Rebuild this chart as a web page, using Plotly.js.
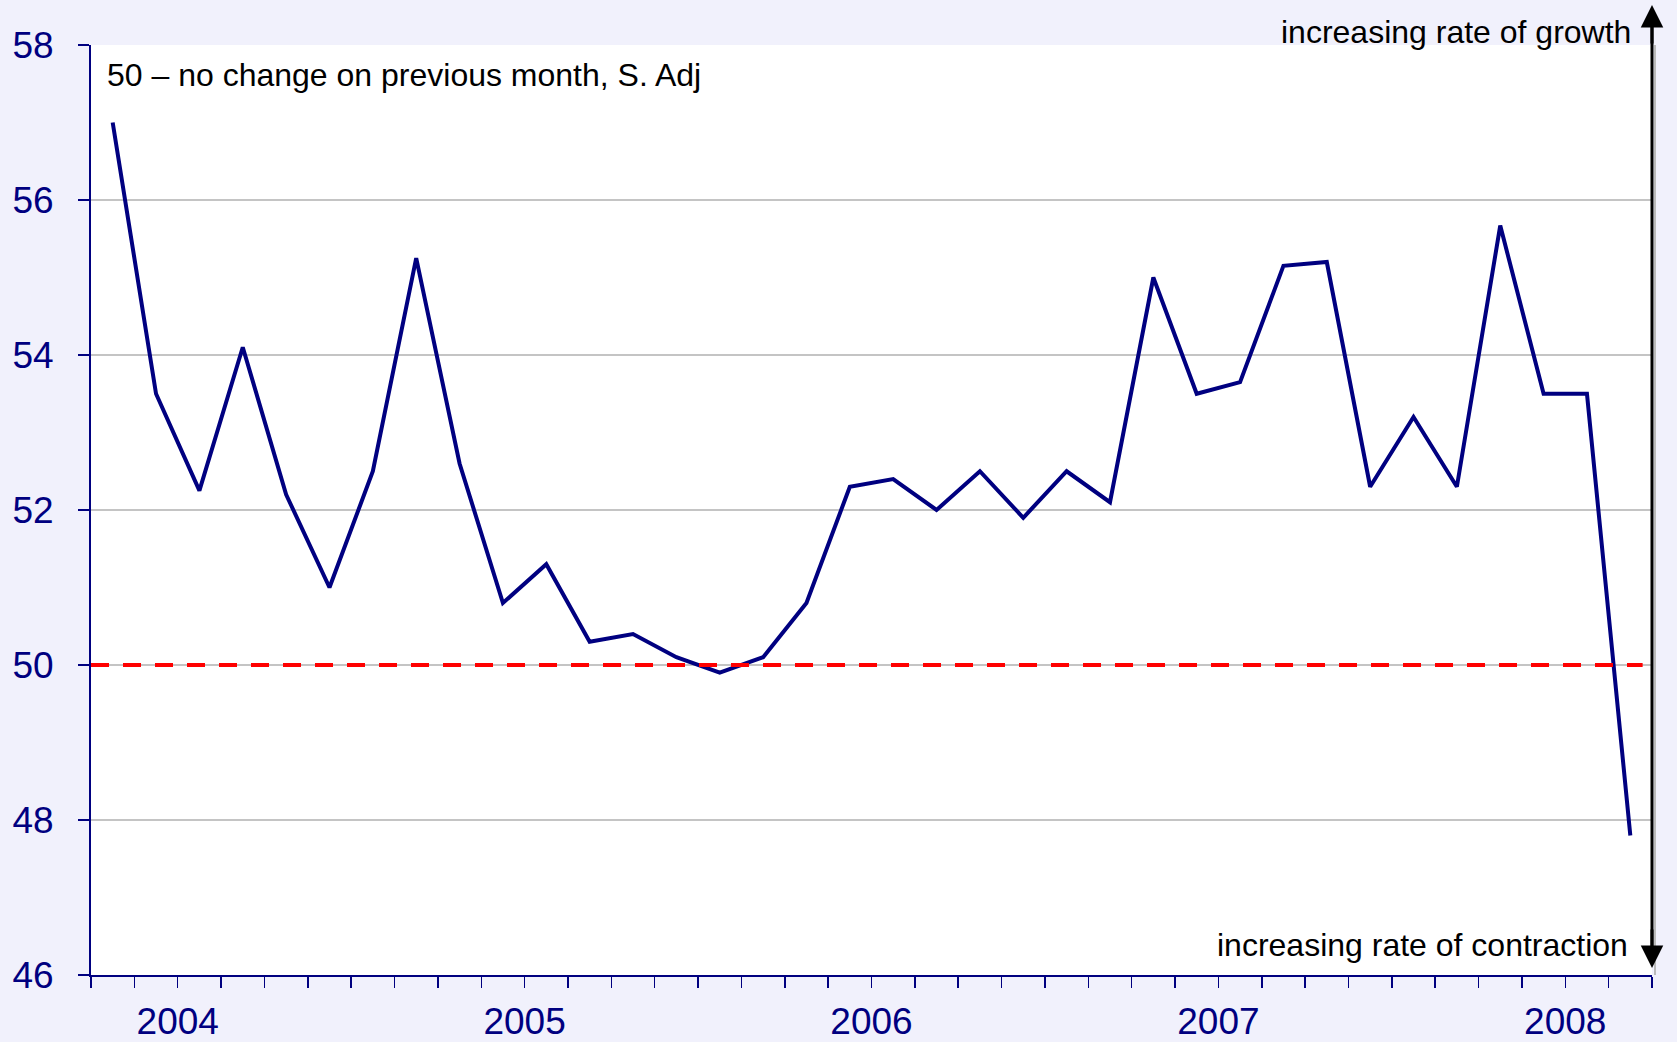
<!DOCTYPE html>
<html>
<head>
<meta charset="utf-8">
<script src="https://cdn.plot.ly/plotly-3.0.1.min.js"></script>
<style>html,body{margin:0;padding:0;background:#F1F1FC;}#chart{width:1677px;height:1042px;}</style>
</head>
<body>
<div id="chart"></div>
<script>
// Index values (50 = no change on previous month, seasonally adjusted)
const pmi = [57.0, 53.5, 52.25, 54.1, 52.2, 51.0, 52.5, 55.25, 52.6, 50.8,
             51.3, 50.3, 50.4, 50.1, 49.9, 50.1, 50.8, 52.3, 52.4, 52.0,
             52.5, 51.9, 52.5, 52.1, 55.0, 53.5, 53.65, 55.15, 55.2, 52.3,
             53.2, 52.3, 55.67, 53.5, 53.5, 47.8];
const yearLabels = ['2004', '2005', '2006', '2007', '2008'];
const firstLabelTick = 2;   // boundary tick where the first year label sits
const labelEvery = 8;       // a year label every 8 ticks
const noChangeLevel = 50;

const xs = pmi.map((_, i) => i);
const tickvals = [];
const ticktext = [];
for (let k = 0; k <= pmi.length; k++) {
  tickvals.push(k - 0.5);
  const j = (k - firstLabelTick) / labelEvery;
  ticktext.push(Number.isInteger(j) && j >= 0 && j < yearLabels.length ? yearLabels[j] : '');
}

const navy = '#000080';
const font = 'Liberation Sans, Arial, sans-serif';

const traces = [{
  x: xs, y: pmi, type: 'scatter', mode: 'lines',
  line: {color: navy, width: 4}, hoverinfo: 'skip'
}];

const layout = {
  width: 1677, height: 1042,
  margin: {l: 91, r: 25, t: 45, b: 67},
  paper_bgcolor: '#F1F1FC', plot_bgcolor: '#FFFFFF',
  showlegend: false,
  font: {family: font, color: navy},
  xaxis: {
    range: [-0.5, pmi.length - 0.5], tickmode: 'array', tickvals: tickvals, ticktext: ticktext,
    showgrid: false, zeroline: false, showline: true, linecolor: navy, linewidth: 2,
    ticks: 'outside', ticklen: 11, tickwidth: 1.5, tickcolor: navy,
    tickfont: {size: 37, color: navy, family: font}, ticklabelstandoff: 2
  },
  yaxis: {
    range: [46, 58], tickmode: 'linear', tick0: 46, dtick: 2,
    showgrid: true, gridcolor: '#C4C4C4', gridwidth: 1.5, zeroline: false,
    showline: true, linecolor: navy, linewidth: 2,
    ticks: 'outside', ticklen: 11, tickwidth: 1.5, tickcolor: navy,
    tickfont: {size: 37, color: navy, family: font}, ticklabelstandoff: 17
  },
  shapes: [
    {type: 'line', xref: 'paper', yref: 'y', x0: 0, x1: 0.994, y0: noChangeLevel, y1: noChangeLevel,
     line: {color: '#FF0000', width: 4, dash: '18px,14px'}, layer: 'above'},
    {type: 'line', xref: 'paper', yref: 'paper', xsizemode: 'pixel', xanchor: 1, x0: 3, x1: 3,
     y0: 0, y1: 1, line: {color: '#BBBBBB', width: 2}, layer: 'above'},
    {type: 'line', xref: 'paper', yref: 'paper', x0: 1, x1: 1, y0: 0.012, y1: 1.038,
     line: {color: '#000000', width: 3}, layer: 'above'}
  ],
  annotations: [
    {xref: 'paper', yref: 'paper', x: 0.009, y: 0.968, xanchor: 'left', yanchor: 'middle',
     text: '50 – no change on previous month, S. Adj', showarrow: false,
     font: {size: 32, color: '#000000', family: font}},
    {xref: 'paper', yref: 'paper', x: 0.988, y: 1.014, xanchor: 'right', yanchor: 'middle',
     text: 'increasing rate of growth', showarrow: false,
     font: {size: 32, color: '#000000', family: font}},
    {xref: 'paper', yref: 'paper', x: 0.986, y: 0.032, xanchor: 'right', yanchor: 'middle',
     text: 'increasing rate of contraction', showarrow: false,
     font: {size: 32, color: '#000000', family: font}},
    {xref: 'paper', yref: 'paper', x: 1, y: 1.043, text: '', showarrow: true,
     ax: 0, ay: 40, arrowhead: 2, arrowsize: 1.5, arrowwidth: 3, arrowcolor: '#000000'},
    {xref: 'paper', yref: 'paper', x: 1, y: 0.0075, text: '', showarrow: true,
     ax: 0, ay: -40, arrowhead: 2, arrowsize: 1.5, arrowwidth: 3, arrowcolor: '#000000'}
  ]
};

Plotly.newPlot('chart', traces, layout, {displayModeBar: false, staticPlot: true});
</script>
</body>
</html>
